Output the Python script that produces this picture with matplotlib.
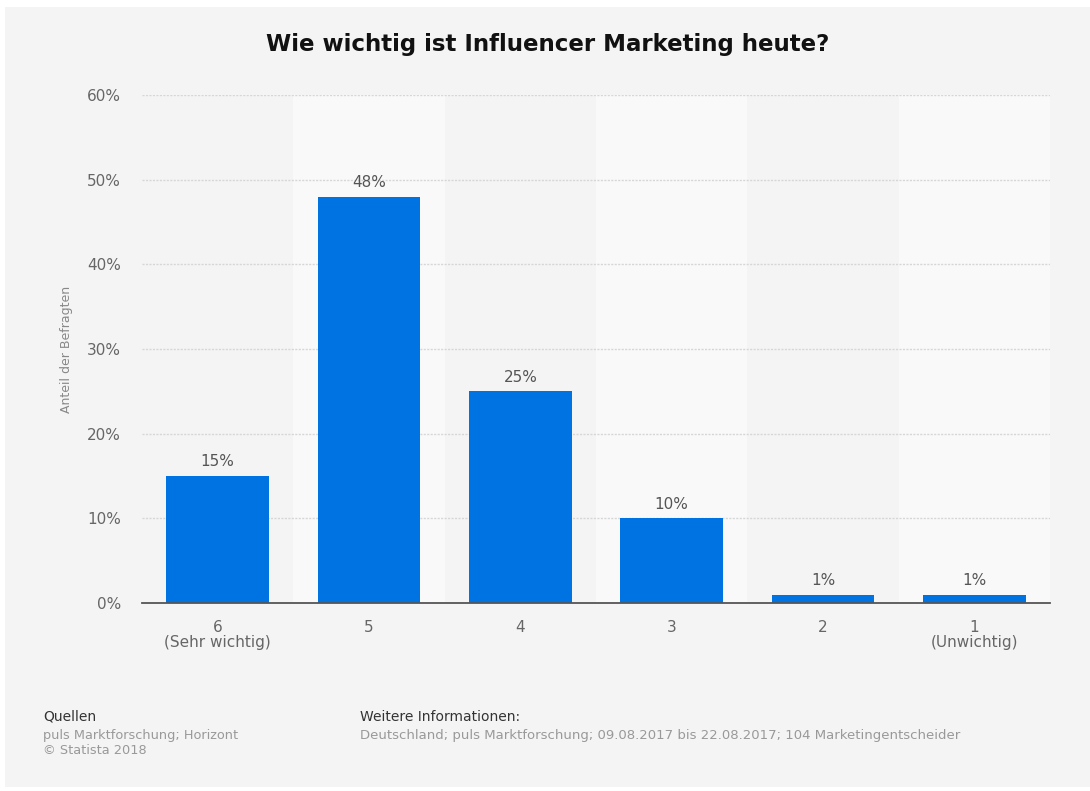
import matplotlib.pyplot as plt
from matplotlib.patches import Rectangle
import numpy as np

categories = ["6\n(Sehr wichtig)", "5", "4", "3", "2", "1\n(Unwichtig)"]
values = [15, 48, 25, 10, 1, 1]
yticks = [0, 10, 20, 30, 40, 50, 60]

W, H = 1090, 791
fig = plt.figure(figsize=(W / 100, H / 100), dpi=100, facecolor="white")

# grey card behind everything
fig.patches.append(Rectangle((5 / W, 4 / H), (W - 5) / W, (H - 11) / H,
                             transform=fig.transFigure, facecolor="#f4f4f4",
                             edgecolor="none", zorder=-10))

ax = fig.add_axes([142 / W, 1 - 603 / H, (1050 - 142) / W, (603 - 95) / H])
ax.set_facecolor("none")

x = np.arange(len(values))
# alternating column bands
for i in x:
    if i % 2 == 1:
        ax.axvspan(i - 0.5, i + 0.5, color="#f9f9f9", zorder=0, lw=0)

for t in yticks[1:]:
    ax.axhline(t, color="#d6d6d6", lw=1, ls=(0, (1.5, 1)), zorder=1)

bars = ax.bar(x, values, width=0.68, color="#0073e3", zorder=2)
for xi, v in zip(x, values):
    ax.text(xi, v + 0.8, f"{v}%", ha="center", va="bottom", fontsize=11,
            color="#555555")

ax.set_xlim(-0.5, len(values) - 0.5)
ax.set_ylim(0, 60)
ax.set_yticks(yticks)
ax.set_yticklabels([f"{t}%" for t in yticks])
ax.set_xticks(x)
ax.set_xticklabels(categories, linespacing=1.0)
ax.tick_params(axis="both", length=0, labelsize=11, labelcolor="#666666")
ax.tick_params(axis="y", pad=15)
ax.tick_params(axis="x", pad=12)

for s in ["top", "right", "left"]:
    ax.spines[s].set_visible(False)
ax.spines["bottom"].set_color("#555555")
ax.spines["bottom"].set_linewidth(1.3)
ax.spines["bottom"].set_zorder(3)

ax.set_ylabel("Anteil der Befragten", fontsize=9, color="#888888", labelpad=10)

fig.text(548 / W, 1 - 45 / H, "Wie wichtig ist Influencer Marketing heute?",
         ha="center", va="center", fontsize=16.5, fontweight="bold", color="#111111")

fig.text(43 / W, 1 - 717 / H, "Quellen", fontsize=10, color="#333333", va="center")
fig.text(43 / W, 1 - 735 / H, "puls Marktforschung; Horizont", fontsize=9.3,
         color="#999999", va="center")
fig.text(43 / W, 1 - 751 / H, "\u00a9 Statista 2018", fontsize=9.3,
         color="#999999", va="center")
fig.text(360 / W, 1 - 717 / H, "Weitere Informationen:", fontsize=10,
         color="#333333", va="center")
fig.text(360 / W, 1 - 735 / H,
         "Deutschland; puls Marktforschung; 09.08.2017 bis 22.08.2017; 104 Marketingentscheider",
         fontsize=9.5, color="#999999", va="center")

fig.savefig("out.png", dpi=100, facecolor=fig.get_facecolor())
